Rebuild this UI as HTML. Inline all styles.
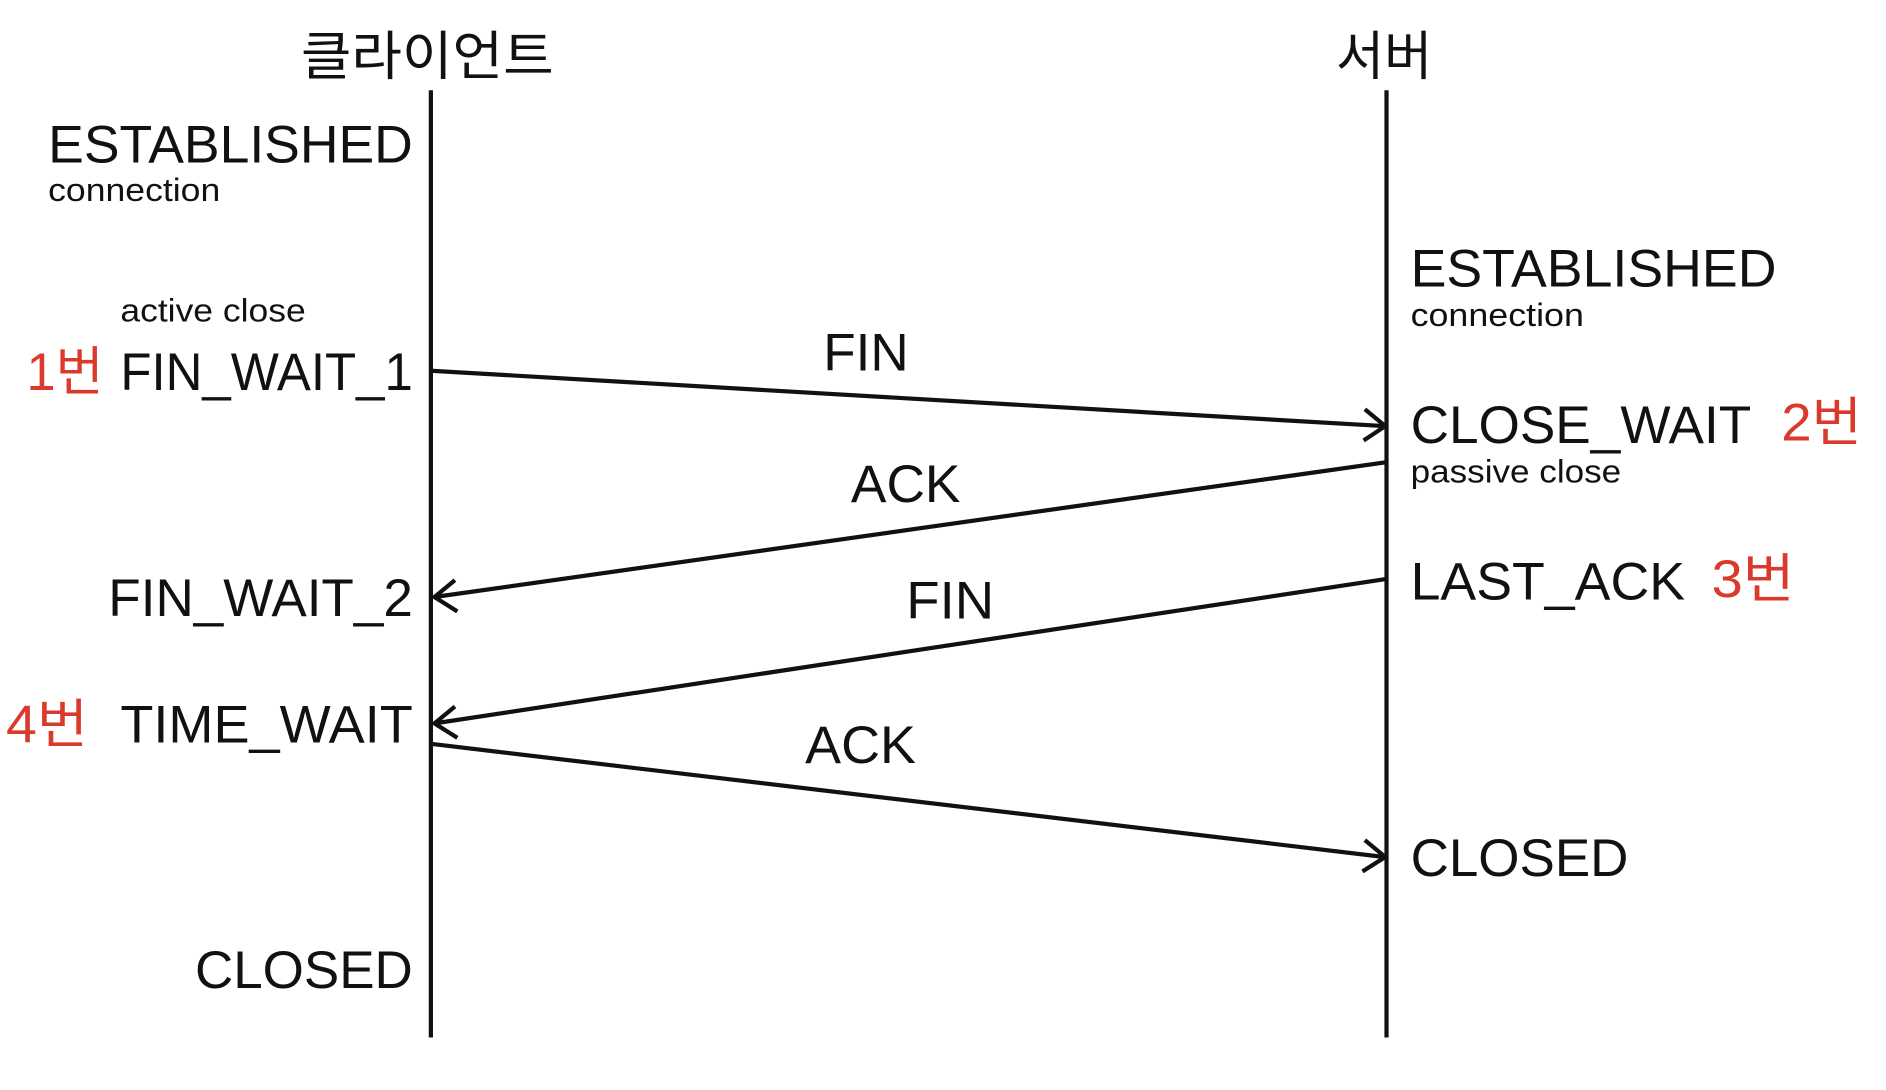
<!DOCTYPE html>
<html><head><meta charset="utf-8"><style>
html,body{margin:0;padding:0;background:#fff;}
svg{display:block;}
text{font-family:"Liberation Sans","Noto Sans CJK KR",sans-serif;fill:#111;}
.b{font-size:44px;}
.s{font-size:27px;}
.r{fill:#d93a2b;}
</style></head><body>
<svg width="1886" height="1090" viewBox="0 0 1567 905.6" preserveAspectRatio="none" xmlns="http://www.w3.org/2000/svg">
<g stroke="#111" stroke-width="3.5" fill="none">
<line x1="358" y1="75" x2="358" y2="862"/>
<line x1="1152" y1="75" x2="1152" y2="862"/>
<line x1="358" y1="308" x2="1150" y2="354"/>
<polyline points="1134,340 1151,354 1133,366"/>
<line x1="1152" y1="384" x2="361" y2="496"/>
<polyline points="378,482 361,496 380,508"/>
<line x1="1152" y1="481" x2="361" y2="601"/>
<polyline points="378,587 361,601 380,613"/>
<line x1="358" y1="618" x2="1150" y2="712"/>
<polyline points="1134,698 1151,712 1132,724"/>
</g>
<g lengthAdjust="spacingAndGlyphs">
<text class="b" x="250" y="62" textLength="210" lengthAdjust="spacingAndGlyphs">클라이언트</text>
<text class="b" x="1110" y="62" textLength="80" lengthAdjust="spacingAndGlyphs">서버</text>
<text class="b" x="40" y="135" textLength="303" lengthAdjust="spacingAndGlyphs">ESTABLISHED</text>
<text class="s" x="40" y="167" textLength="143" lengthAdjust="spacingAndGlyphs">connection</text>
<text class="s" x="100" y="267" textLength="154" lengthAdjust="spacingAndGlyphs">active close</text>
<text class="b r" x="22" y="324" textLength="64" lengthAdjust="spacingAndGlyphs">1번</text>
<text class="b" x="100" y="324" textLength="243" lengthAdjust="spacingAndGlyphs">FIN_WAIT_1</text>
<text class="b" x="90" y="512" textLength="253" lengthAdjust="spacingAndGlyphs">FIN_WAIT_2</text>
<text class="b r" x="5" y="617" textLength="68" lengthAdjust="spacingAndGlyphs">4번</text>
<text class="b" x="100" y="617" textLength="243" lengthAdjust="spacingAndGlyphs">TIME_WAIT</text>
<text class="b" x="162" y="821" textLength="181" lengthAdjust="spacingAndGlyphs">CLOSED</text>
<text class="b" x="684" y="308" textLength="71" lengthAdjust="spacingAndGlyphs">FIN</text>
<text class="b" x="707" y="417" textLength="91" lengthAdjust="spacingAndGlyphs">ACK</text>
<text class="b" x="753" y="514" textLength="73" lengthAdjust="spacingAndGlyphs">FIN</text>
<text class="b" x="669" y="634" textLength="92" lengthAdjust="spacingAndGlyphs">ACK</text>
<text class="b" x="1172" y="238" textLength="304" lengthAdjust="spacingAndGlyphs">ESTABLISHED</text>
<text class="s" x="1172" y="271" textLength="144" lengthAdjust="spacingAndGlyphs">connection</text>
<text class="b" x="1172" y="368" textLength="283" lengthAdjust="spacingAndGlyphs">CLOSE_WAIT</text>
<text class="b r" x="1480" y="366" textLength="67" lengthAdjust="spacingAndGlyphs">2번</text>
<text class="s" x="1172" y="401" textLength="175" lengthAdjust="spacingAndGlyphs">passive close</text>
<text class="b" x="1172" y="498" textLength="228" lengthAdjust="spacingAndGlyphs">LAST_ACK</text>
<text class="b r" x="1422" y="496" textLength="69" lengthAdjust="spacingAndGlyphs">3번</text>
<text class="b" x="1172" y="728" textLength="181" lengthAdjust="spacingAndGlyphs">CLOSED</text>
</g>
</svg>
</body></html>
